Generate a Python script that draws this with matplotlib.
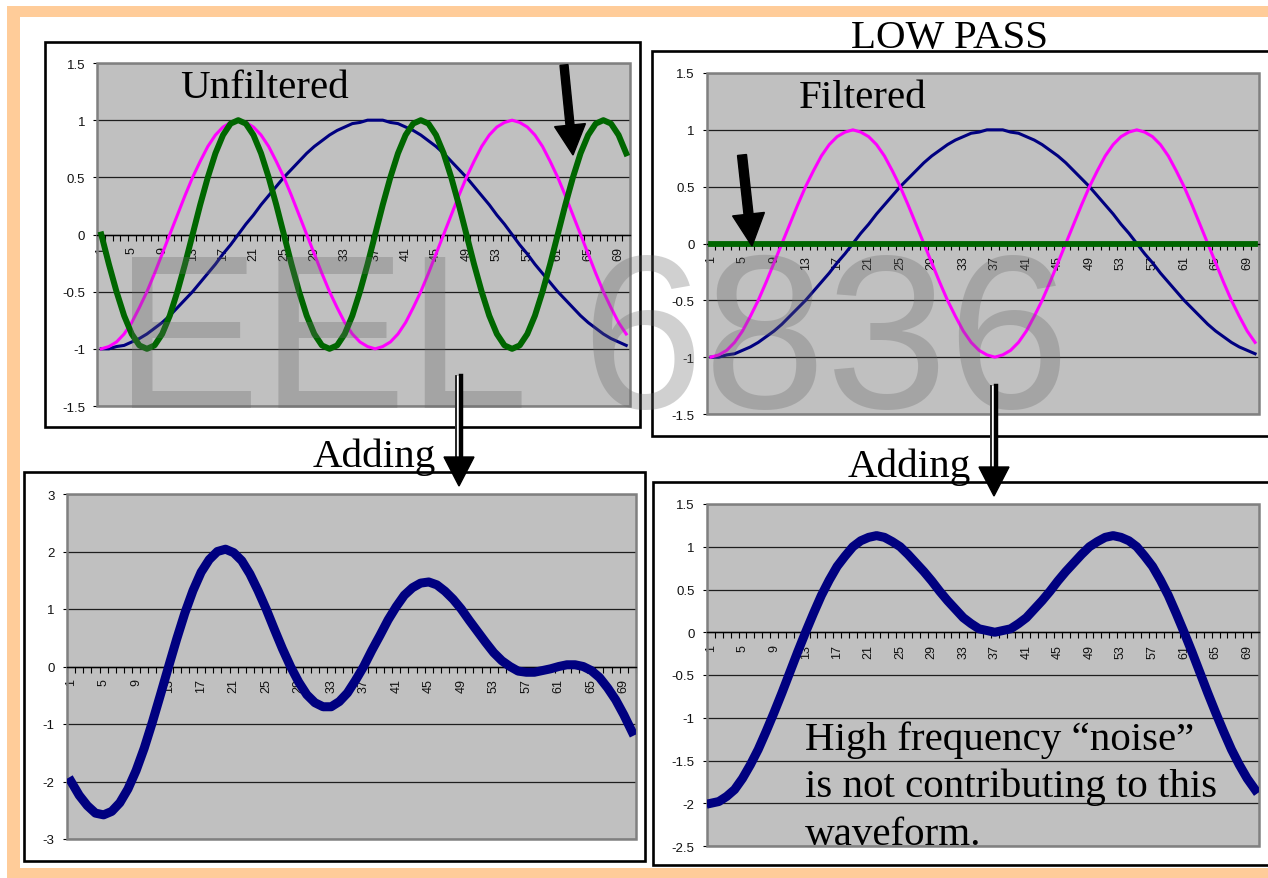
import matplotlib
matplotlib.use("Agg")
import matplotlib.pyplot as plt
from matplotlib.patches import Rectangle, FancyArrow, Polygon

W, H = 1268, 879

# ---------------- data ----------------
samples = list(range(1, 71))

# slow wave (navy)
slow_wave = [-1.00, -1.00, -0.98, -0.97, -0.94, -0.91, -0.87, -0.82, -0.77, -0.71,
             -0.64, -0.57, -0.50, -0.42, -0.34, -0.26, -0.17, -0.09, 0.00, 0.09,
             0.17, 0.26, 0.34, 0.42, 0.50, 0.57, 0.64, 0.71, 0.77, 0.82,
             0.87, 0.91, 0.94, 0.97, 0.98, 1.00, 1.00, 1.00, 0.98, 0.97,
             0.94, 0.91, 0.87, 0.82, 0.77, 0.71, 0.64, 0.57, 0.50, 0.42,
             0.34, 0.26, 0.17, 0.09, 0.00, -0.09, -0.17, -0.26, -0.34, -0.42,
             -0.50, -0.57, -0.64, -0.71, -0.77, -0.82, -0.87, -0.91, -0.94, -0.97]

# middle wave (magenta)
mid_wave = [-1.00, -0.98, -0.94, -0.87, -0.77, -0.64, -0.50, -0.34, -0.17, 0.00,
            0.17, 0.34, 0.50, 0.64, 0.77, 0.87, 0.94, 0.98, 1.00, 0.98,
            0.94, 0.87, 0.77, 0.64, 0.50, 0.34, 0.17, 0.00, -0.17, -0.34,
            -0.50, -0.64, -0.77, -0.87, -0.94, -0.98, -1.00, -0.98, -0.94, -0.87,
            -0.77, -0.64, -0.50, -0.34, -0.17, 0.00, 0.17, 0.34, 0.50, 0.64,
            0.77, 0.87, 0.94, 0.98, 1.00, 0.98, 0.94, 0.87, 0.77, 0.64,
            0.50, 0.34, 0.17, 0.00, -0.17, -0.34, -0.50, -0.64, -0.77, -0.87]

# fast wave (green), before filtering
fast_wave = [0.00, -0.26, -0.50, -0.71, -0.87, -0.97, -1.00, -0.97, -0.87, -0.71,
             -0.50, -0.26, 0.00, 0.26, 0.50, 0.71, 0.87, 0.97, 1.00, 0.97,
             0.87, 0.71, 0.50, 0.26, 0.00, -0.26, -0.50, -0.71, -0.87, -0.97,
             -1.00, -0.97, -0.87, -0.71, -0.50, -0.26, 0.00, 0.26, 0.50, 0.71,
             0.87, 0.97, 1.00, 0.97, 0.87, 0.71, 0.50, 0.26, 0.00, -0.26,
             -0.50, -0.71, -0.87, -0.97, -1.00, -0.97, -0.87, -0.71, -0.50, -0.26,
             0.00, 0.26, 0.50, 0.71, 0.87, 0.97, 1.00, 0.97, 0.87, 0.71]

# fast wave after the low-pass filter
fast_filtered = [0.0] * 70

# sum of the three unfiltered waves
sum_unfiltered = [-2.00, -2.24, -2.42, -2.55, -2.58, -2.52, -2.37, -2.13, -1.81, -1.42,
                  -0.97, -0.49, 0.00, 0.48, 0.93, 1.32, 1.64, 1.86, 2.00, 2.04,
                  1.98, 1.84, 1.61, 1.32, 1.00, 0.65, 0.31, 0.00, -0.27, -0.49,
                  -0.63, -0.70, -0.70, -0.61, -0.46, -0.24, 0.00, 0.28, 0.54, 0.81,
                  1.04, 1.24, 1.37, 1.45, 1.47, 1.42, 1.31, 1.17, 1.00, 0.80,
                  0.61, 0.42, 0.24, 0.10, 0.00, -0.08, -0.10, -0.10, -0.07, -0.04,
                  0.00, 0.03, 0.03, 0.00, -0.07, -0.19, -0.37, -0.58, -0.84, -1.13]

# sum of the filtered waves
sum_filtered = [-2.00, -1.98, -1.92, -1.84, -1.71, -1.55, -1.37, -1.16, -0.94, -0.71,
                -0.47, -0.23, 0.00, 0.22, 0.43, 0.61, 0.77, 0.89, 1.00, 1.07,
                1.11, 1.13, 1.11, 1.06, 1.00, 0.91, 0.81, 0.71, 0.60, 0.48,
                0.37, 0.27, 0.17, 0.10, 0.04, 0.02, 0.00, 0.02, 0.04, 0.10,
                0.17, 0.27, 0.37, 0.48, 0.60, 0.71, 0.81, 0.91, 1.00, 1.06,
                1.11, 1.13, 1.11, 1.07, 1.00, 0.89, 0.77, 0.61, 0.43, 0.22,
                0.00, -0.23, -0.47, -0.71, -0.94, -1.16, -1.37, -1.55, -1.71, -1.84]

category_ticks = list(range(1, 71, 4))
category_labels = [str(v) for v in category_ticks]

yticks_small = [1.5, 1, 0.5, 0, -0.5, -1, -1.5]
ylabels_small = ["1.5", "1", "0.5", "0", "-0.5", "-1", "-1.5"]
yticks_sum3 = [3, 2, 1, 0, -1, -2, -3]
ylabels_sum3 = ["3", "2", "1", "0", "-1", "-2", "-3"]
yticks_sum2 = [1.5, 1, 0.5, 0, -0.5, -1, -1.5, -2, -2.5]
ylabels_sum2 = ["1.5", "1", "0.5", "0", "-0.5", "-1", "-1.5", "-2", "-2.5"]

NAVY = "#000080"
MAGENTA = "#ff00ff"
GREEN = "#006600"
PLOT_BG = "#c0c0c0"
SANS = "Liberation Sans"
SERIF = "Liberation Serif"

fig = plt.figure(figsize=(W / 100, H / 100), dpi=100)
fig.patch.set_facecolor("white")


def px_axes(l, t, r, b, z=0):
    return fig.add_axes([l / W, 1 - b / H, (r - l) / W, (b - t) / H], zorder=z)


# background layer: slide frame and chart boxes
bg = px_axes(0, 0, W, H, z=-5)
bg.set_xlim(0, W)
bg.set_ylim(H, 0)
bg.axis("off")
for rect in [(7, 7, 1261, 11), (7, 7, 13, 872), (7, 869, 1261, 10)]:
    bg.add_patch(Rectangle(rect[:2], rect[2], rect[3], fc="#ffcc99", ec="none"))
for (l, t, r, b) in [(45, 43, 640, 428), (652, 52, 1270, 437),
                     (24, 473, 645, 862), (653, 483, 1270, 866)]:
    bg.add_patch(Rectangle((l, t), r - l, b - t, fc="white", ec="black", lw=1.9))


def style_chart(ax, yticks, ylabels):
    ax.set_facecolor(PLOT_BG)
    ax.set_xlim(0.5, 70.5)
    ax.set_ylim(yticks[-1], yticks[0])
    ax.set_yticks(yticks)
    ax.set_yticklabels(ylabels, fontsize=9.5, family=SANS, color="#111111")
    ax.grid(axis="y", color="#1e1e1e", lw=0.9)
    ax.set_axisbelow(True)
    for side in ("top", "right", "left"):
        ax.spines[side].set_visible(False)
    ax.spines["bottom"].set_position(("data", 0))
    ax.spines["bottom"].set_color("black")
    ax.spines["bottom"].set_linewidth(1.0)
    ax.spines["bottom"].set_zorder(2)
    ax.add_patch(Rectangle((0, 0), 1, 1, transform=ax.transAxes, fill=False,
                           ec="#808080", lw=1.8, clip_on=False, zorder=2))
    ax.set_xticks([v + 0.5 for v in range(0, 71)])
    ax.set_xticklabels([])
    ax.set_xticks(category_ticks, minor=True)
    ax.set_xticklabels(category_labels, minor=True, rotation=90,
                       fontsize=9, family=SANS, color="#111111")
    ax.tick_params(axis="x", which="major", direction="out", length=4,
                   width=0.8, color="black")
    ax.tick_params(axis="x", which="minor", length=0, pad=8.5)
    ax.tick_params(axis="y", direction="out", length=3, width=0.8,
                   color="black", pad=6)


# top-left: unfiltered components
ax_tl = px_axes(97.5, 64, 630, 407)
style_chart(ax_tl, yticks_small, ylabels_small)
ax_tl.plot(samples, slow_wave, color=NAVY, lw=2.2, zorder=3)
ax_tl.plot(samples, mid_wave, color=MAGENTA, lw=2.2, zorder=3)
ax_tl.plot(samples, fast_wave, color=GREEN, lw=4.3, zorder=3)

# top-right: filtered components
ax_tr = px_axes(707, 74, 1259, 415)
style_chart(ax_tr, yticks_small, ylabels_small)
ax_tr.plot(samples, slow_wave, color=NAVY, lw=2.2, zorder=3)
ax_tr.plot(samples, mid_wave, color=MAGENTA, lw=2.2, zorder=3)
ax_tr.plot(samples, fast_filtered, color=GREEN, lw=4.2, zorder=3,
           solid_capstyle="projecting")

# bottom-left: sum of unfiltered waves
ax_bl = px_axes(67, 495, 636, 840)
style_chart(ax_bl, yticks_sum3, ylabels_sum3)
ax_bl.plot(samples, sum_unfiltered, color=NAVY, lw=6.5, zorder=3)

# bottom-right: sum of filtered waves
ax_br = px_axes(707, 505, 1259, 847)
style_chart(ax_br, yticks_sum2, ylabels_sum2)
ax_br.plot(samples, sum_filtered, color=NAVY, lw=6.5, zorder=3)

# foreground layer: captions, watermark, arrows
fg = px_axes(0, 0, W, H, z=10)
fg.set_xlim(0, W)
fg.set_ylim(H, 0)
fg.axis("off")
fg.set_facecolor("none")

fg.text(114, 408, "EEL 6836", family=SANS, fontsize=158, color="#666666",
        alpha=0.3, va="baseline", ha="left", zorder=1)

title_kw = dict(family=SERIF, fontsize=29.5, color="black", va="baseline",
                ha="left", zorder=3)
fg.text(180, 98, "Unfiltered", **title_kw)
fg.text(799, 108, "Filtered", **title_kw)
fg.text(851, 48, "LOW PASS", **title_kw)
fg.text(313, 467, "Adding", **title_kw)
fg.text(848, 477, "Adding", **title_kw)

note_lines = ["High frequency \u201cnoise\u201d", "is not contributing to this",
              "waveform."]
for line, base in zip(note_lines, [750, 797, 845]):
    ax_br.text(805, base, line, transform=fg.transData, family=SERIF,
               fontsize=29.5, va="baseline", ha="left", zorder=4,
               clip_on=True)

# solid pointer arrows
fg.add_patch(FancyArrow(564, 66, 9, 90, width=8, head_width=31, head_length=30,
                        length_includes_head=True, fc="black", ec="black",
                        zorder=4))
fg.add_patch(FancyArrow(742, 156, 10, 91, width=9, head_width=32,
                        head_length=32, length_includes_head=True,
                        fc="black", ec="black", zorder=4))

# outlined down arrows between the panels
for (xc, top, neck, tip) in [(459, 377, 458, 487), (994, 387, 468, 497)]:
    fg.add_patch(Rectangle((xc - 4, top), 8, neck - top, fc="white",
                           ec="none", zorder=4))
    fg.plot([xc - 3.5, xc - 3.5], [top, neck], color="black", lw=1.2, zorder=5)
    fg.plot([xc + 2, xc + 2], [top, neck], color="black", lw=3.2, zorder=5)
    fg.add_patch(Polygon([(xc - 15, neck), (xc + 15, neck), (xc, tip)],
                         closed=True, fc="black", ec="black", zorder=5))

fig.savefig("out.png", dpi=100, facecolor="white")
